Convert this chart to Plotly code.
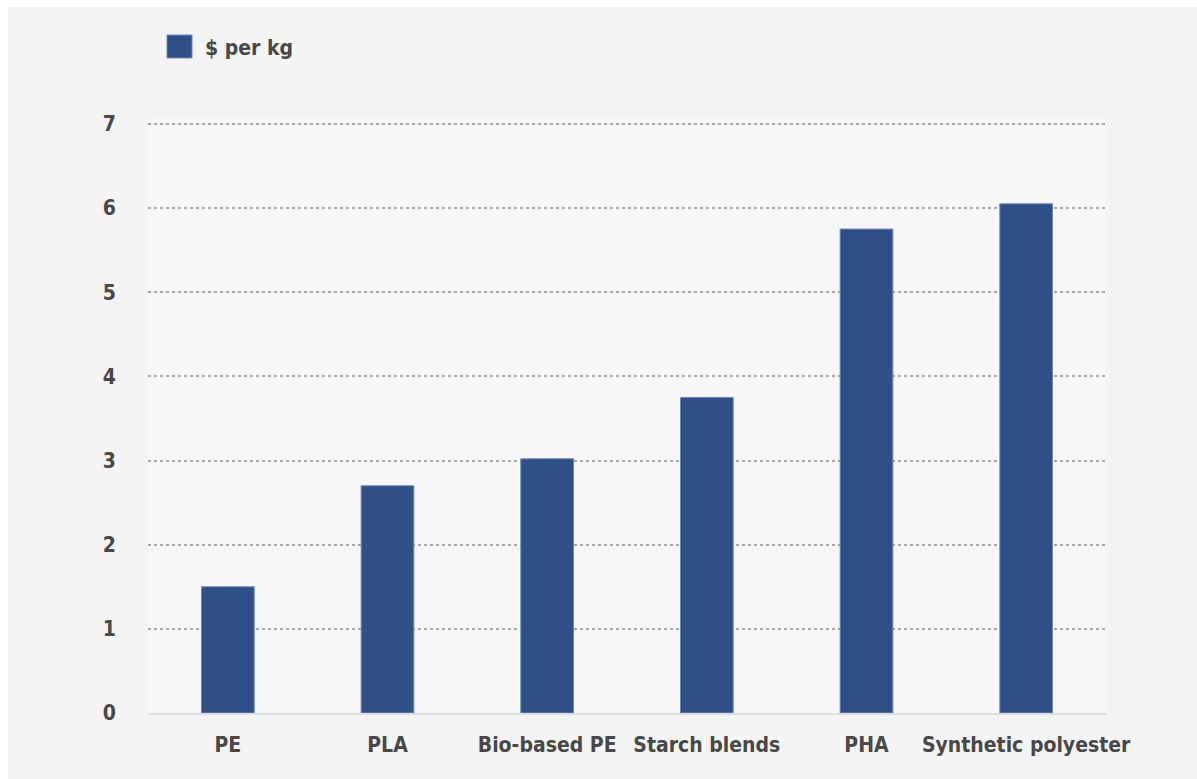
import plotly.graph_objects as go

categories = ["PE", "PLA", "Bio-based PE", "Starch blends", "PHA", "Synthetic polyester"]
values = [1.5, 2.7, 3.02, 3.75, 5.75, 6.05]
series_name = "$ per kg"
y_ticks = [0, 1, 2, 3, 4, 5, 6, 7]

FONT = "DejaVu Sans Condensed, Liberation Sans Narrow, Roboto Condensed, DejaVu Sans"
TXT = "#484848"
BAR = "#2e5087"
FS = 21

L, R, T, B = 148, 1106, 118, 713
W, H = 1197, 779
pw, ph = R - L, B - T

def px(x):
    return (x - L) / pw

def py(y):
    return (B - y) / ph

fig = go.Figure()
fig.add_trace(go.Bar(
    x=categories, y=values, name=series_name,
    marker=dict(color=BAR, line=dict(color="#6f88b3", width=1)),
    showlegend=False,
))

fig.update_layout(
    width=W, height=H,
    margin=dict(l=L, r=W - R, t=T, b=H - B, pad=0),
    paper_bgcolor="#f4f4f4",
    plot_bgcolor="#f7f7f9",
    bargap=0.67,
    font=dict(family=FONT, color=TXT, size=FS, weight="bold"),
    xaxis=dict(
        showgrid=False, ticks="", showline=True, linecolor="#dedee2", linewidth=2,
        tickfont=dict(family=FONT, size=FS, color=TXT, weight="bold"),
        ticklabelstandoff=12, fixedrange=True,
    ),
    yaxis=dict(
        range=[0, 7.07], tickvals=y_ticks, showgrid=True, gridcolor="#a8a8a8",
        griddash="dot", gridwidth=1.5, zeroline=False, showline=False, ticks="",
        tickfont=dict(family=FONT, size=FS, color=TXT, weight="bold"),
        ticklabelstandoff=31,
    ),
    shapes=[
        dict(type="rect", xref="paper", yref="paper", x0=px(-20), x1=px(8), y0=py(800), y1=py(-20),
             fillcolor="white", line=dict(width=0), layer="above"),
        dict(type="rect", xref="paper", yref="paper", x0=px(-20), x1=px(1220), y0=py(7), y1=py(-20),
             fillcolor="white", line=dict(width=0), layer="above"),
        dict(type="rect", xref="paper", yref="paper", x0=px(167), x1=px(192), y0=py(58), y1=py(35),
             fillcolor=BAR, line=dict(color="#6f88b3", width=1), layer="above"),
    ],
    annotations=[
        dict(text=series_name, xref="paper", yref="paper", x=px(203), y=py(48),
             xanchor="left", yanchor="middle", showarrow=False,
             font=dict(family=FONT, size=FS, color=TXT, weight="bold")),
    ],
)

fig.write_html("out.html")
